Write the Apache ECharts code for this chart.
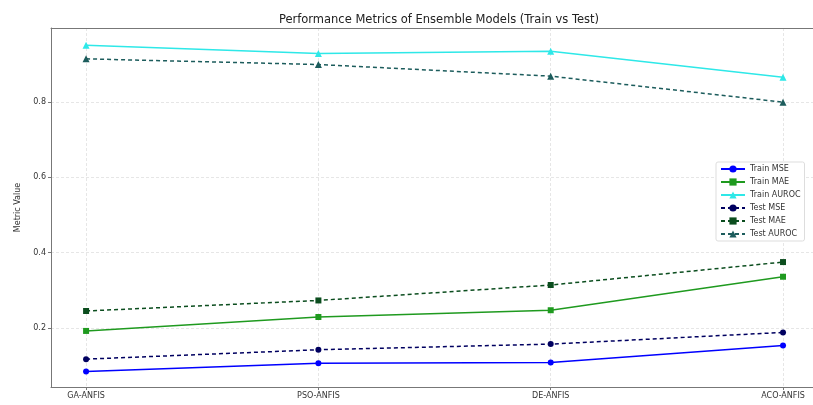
<!DOCTYPE html>
<html><head><meta charset="utf-8">
<script src="https://cdn.jsdelivr.net/npm/echarts@6/dist/echarts.min.js"></script>
<style>html,body{margin:0;padding:0;background:#fff}#c{width:813px;height:405px}</style>
</head><body><div id="c"></div>
<script>
const categories = ['GA-ANFIS', 'PSO-ANFIS', 'DE-ANFIS', 'ACO-ANFIS'];
const trainMSE = [0.084, 0.106, 0.108, 0.153];
const trainMAE = [0.192, 0.229, 0.247, 0.336];
const trainAUROC = [0.951, 0.929, 0.935, 0.866];
const testMSE = [0.117, 0.142, 0.157, 0.188];
const testMAE = [0.245, 0.273, 0.314, 0.375];
const testAUROC = [0.915, 0.900, 0.869, 0.800];
const yTicks = [0.2, 0.4, 0.6, 0.8];
const xTicks = [0, 1, 2, 3];

const chart = echarts.init(document.getElementById('c'), null, {renderer: 'canvas'});
function mk(name, vals, color, symbol, dashed) {
  return {
    name: name, type: 'line', xAxisIndex: 0,
    data: vals.map((v, i) => [i, v]),
    symbol: symbol, symbolSize: symbol === 'triangle' ? 7 : 6,
    itemStyle: {color: color},
    lineStyle: {color: color, width: 1.5, type: dashed ? [4, 3] : 'solid'},
    emphasis: {disabled: true},
    animation: false
  };
}
const series = [
  mk('Train MSE', trainMSE, '#0000ff', 'circle', false),
  mk('Train MAE', trainMAE, '#1f9a1f', 'rect', false),
  mk('Train AUROC', trainAUROC, '#2ee8e8', 'triangle', false),
  mk('Test MSE', testMSE, '#000060', 'circle', true),
  mk('Test MAE', testMAE, '#0b4d1e', 'rect', true),
  mk('Test AUROC', testAUROC, '#1c5c5c', 'triangle', true)
];
const spine = {show: true, onZero: false, lineStyle: {color: '#777', width: 1}};
chart.setOption({
  animation: false,
  title: {text: 'Performance Metrics of Ensemble Models (Train vs Test)', left: 434, textAlign: 'center', top: 9,
    textStyle: {fontSize: 11.5, fontWeight: 'normal', color: '#222', fontFamily: 'DejaVu Sans'}},
  grid: {left: 51, right: 0, top: 28, bottom: 18, show: false},
  legend: {
    orient: 'vertical', left: 716, top: 162, itemGap: 5, itemWidth: 24, itemHeight: 9,
    backgroundColor: '#fff', borderColor: '#ddd', borderWidth: 1, borderRadius: 2, padding: [3, 4, 3, 4],
    textStyle: {fontSize: 8, color: '#333', fontFamily: 'DejaVu Sans'},
    data: ['Train MSE', 'Train MAE', 'Train AUROC', 'Test MSE', 'Test MAE', 'Test AUROC']
  },
  xAxis: [{
    type: 'value', min: -0.151, max: 3.129, position: 'bottom',
    axisLine: spine,
    axisTick: {show: true, customValues: xTicks, length: 3, lineStyle: {color: '#777'}},
    axisLabel: {customValues: xTicks, formatter: v => categories[Math.round(v)], fontSize: 8, color: '#333', margin: 5, fontFamily: 'DejaVu Sans'},
    splitLine: {show: true, lineStyle: {color: '#e6e6e6', type: [3, 2], width: 1}}
  }, {
    type: 'value', min: -0.151, max: 3.129, position: 'top',
    axisLine: spine, axisTick: {show: false}, axisLabel: {show: false}, splitLine: {show: false}
  }],
  yAxis: {
    type: 'value', min: 0.043, max: 0.997, position: 'left',
    name: 'Metric Value', nameLocation: 'middle', nameGap: 27, nameRotate: 90,
    nameTextStyle: {fontSize: 8, color: '#333', fontFamily: 'DejaVu Sans'},
    axisLine: spine,
    axisTick: {show: true, customValues: yTicks, length: 3, lineStyle: {color: '#777'}},
    axisLabel: {customValues: yTicks, formatter: v => v.toFixed(1), fontSize: 8, color: '#333', margin: 5, fontFamily: 'DejaVu Sans'},
    splitLine: {show: true, lineStyle: {color: '#e6e6e6', type: [3, 2], width: 1}}
  },
  series: series
});
</script></body></html>
